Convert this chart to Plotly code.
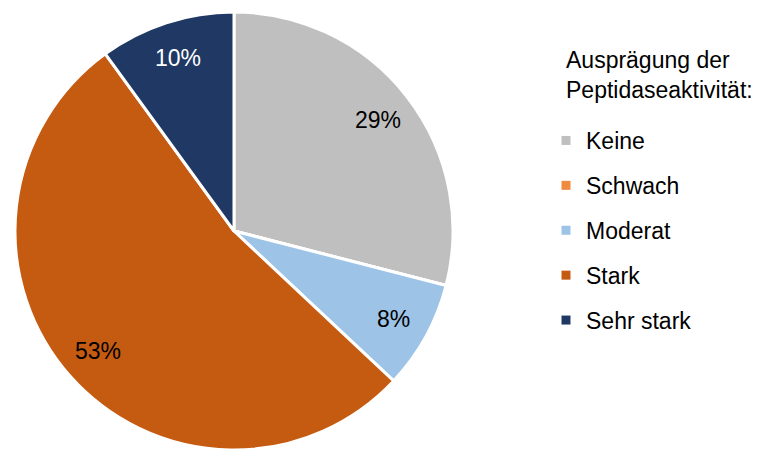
import math
import plotly.graph_objects as go

# Data
categories = ["Keine", "Schwach", "Moderat", "Stark", "Sehr stark"]
values = [29, 0, 8, 53, 10]
colors = ["#BFBFBF", "#F08A3E", "#9DC3E6", "#C55A11", "#1F3864"]
text_colors = ["#000000", "#000000", "#000000", "#000000", "#FFFFFF"]
legend_title = "Ausprägung der<br>Peptidaseaktivität:"

FONT = "Liberation Sans, Arial, sans-serif"
W, H = 765, 450

# Pie geometry (figure pixels)
CX, CY, R = 226, 223, 219
LABEL_FRAC = 0.83

total = sum(values)

fig = go.Figure()
fig.add_trace(go.Pie(
    labels=categories,
    values=values,
    textinfo="none",
    marker=dict(colors=colors, line=dict(color="#FFFFFF", width=3)),
    sort=False,
    direction="clockwise",
    rotation=0,
    showlegend=False,
    hoverinfo="label+percent",
    domain=dict(x=[(CX - R) / W, (CX + R) / W], y=[1 - (CY + R) / H, 1 - (CY - R) / H]),
))

# Percentage labels placed along each slice's bisector
annotations = []
cum = 0.0
for cat, v, tc in zip(categories, values, text_colors):
    frac = v / total
    mid = (cum + frac / 2) * 2 * math.pi
    cum += frac
    if v <= 0:
        continue
    px = CX + LABEL_FRAC * R * math.sin(mid)
    py = CY - LABEL_FRAC * R * math.cos(mid)
    annotations.append(dict(
        x=px / W, y=1 - py / H, xref="paper", yref="paper",
        text=f"{frac:.0%}", showarrow=False,
        xanchor="center", yanchor="middle",
        font=dict(family=FONT, size=23, color=tc),
    ))

annotations.append(dict(
    x=556 / W, y=1 - 37 / H, xref="paper", yref="paper",
    text=legend_title, showarrow=False, align="left",
    xanchor="left", yanchor="top",
    font=dict(family=FONT, size=23, color="#000000"),
))

# Legend entries (one group each so the entries can be spaced like the original)
for cat, col in zip(categories, colors):
    fig.add_trace(go.Scatter(
        x=[None], y=[None], mode="markers", name=cat,
        legendgroup=cat,
        marker=dict(symbol="square", size=9, color=col),
        hoverinfo="skip",
    ))

fig.update_layout(
    width=W, height=H,
    margin=dict(l=0, r=0, t=0, b=0),
    paper_bgcolor="white", plot_bgcolor="white",
    font=dict(family=FONT, size=22, color="#000000"),
    xaxis=dict(visible=False), yaxis=dict(visible=False),
    annotations=annotations,
    legend=dict(
        x=538 / W, y=1 - 111 / H, xanchor="left", yanchor="top",
        font=dict(family=FONT, size=23, color="#000000"),
        tracegroupgap=12,
        traceorder="grouped",
        bgcolor="rgba(0,0,0,0)",
    ),
)

fig.write_html("out.html")
